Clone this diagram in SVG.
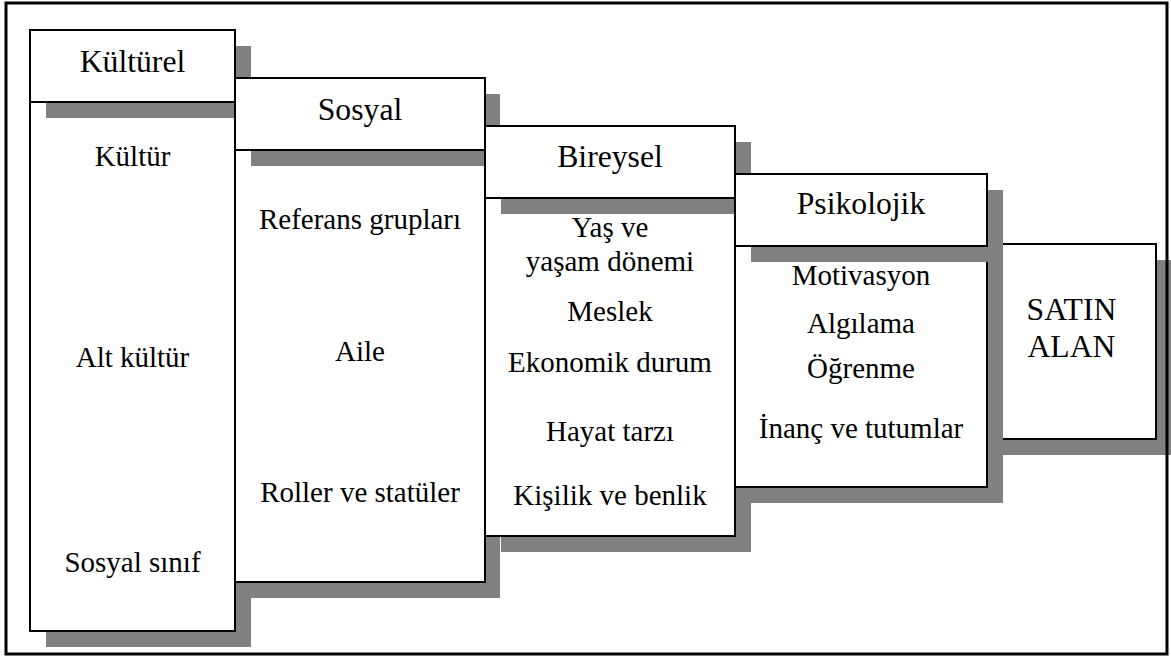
<svg xmlns="http://www.w3.org/2000/svg" width="1171" height="659" viewBox="0 0 1171 659">
  <style>
    .box { fill: #ffffff; stroke: #000000; stroke-width: 2; }
    .shadow { fill: #808080; stroke: none; }
    .head { font-family: "Liberation Serif", "Times New Roman", serif; font-size: 31.7px; fill: #000000; text-anchor: middle; }
    .item { font-family: "Liberation Serif", "Times New Roman", serif; font-size: 29px; fill: #000000; text-anchor: middle; }
    .frame { fill: none; stroke: #000000; stroke-width: 3; }
  </style>
  <rect width="1171" height="659" fill="#ffffff"/>

  <!-- Cultural factors -->
  <g id="kulturel">
    <rect class="shadow" x="46" y="118" width="205" height="529"/>
    <rect class="box" x="30" y="102" width="205" height="529"/>
    <rect class="shadow" x="46" y="46" width="205" height="72"/>
    <rect class="box" x="30" y="30" width="205" height="72"/>
    <text class="head" x="132.5" y="72">Kültürel</text>
    <text class="item" x="132.5" y="166">Kültür</text>
    <text class="item" x="132.5" y="367">Alt kültür</text>
    <text class="item" x="132.5" y="572">Sosyal sınıf</text>
  </g>

  <!-- Social factors -->
  <g id="sosyal">
    <rect class="shadow" x="251" y="166" width="249" height="432"/>
    <rect class="box" x="235" y="150" width="250" height="432"/>
    <rect class="shadow" x="251" y="94" width="249" height="72"/>
    <rect class="box" x="235" y="78" width="250" height="72"/>
    <text class="head" x="360" y="120">Sosyal</text>
    <text class="item" x="360" y="229">Referans grupları</text>
    <text class="item" x="360" y="361">Aile</text>
    <text class="item" x="360" y="502">Roller ve statüler</text>
  </g>

  <!-- Personal factors -->
  <g id="bireysel">
    <rect class="shadow" x="501" y="214" width="250" height="338"/>
    <rect class="box" x="485" y="198" width="250" height="338"/>
    <rect class="shadow" x="501" y="142" width="250" height="72"/>
    <rect class="box" x="485" y="126" width="250" height="72"/>
    <text class="head" x="610" y="167">Bireysel</text>
    <text class="item" x="610" y="237">Yaş ve</text>
    <text class="item" x="610" y="271">yaşam dönemi</text>
    <text class="item" x="610" y="321">Meslek</text>
    <text class="item" x="610" y="372">Ekonomik durum</text>
    <text class="item" x="610" y="441">Hayat tarzı</text>
    <text class="item" x="610" y="505">Kişilik ve benlik</text>
  </g>

  <!-- Buyer -->
  <g id="satin-alan">
    <rect class="shadow" x="1003" y="260" width="169" height="195"/>
    <rect class="box" x="987" y="244" width="169" height="195"/>
    <text class="head" x="1071.5" y="320">SATIN</text>
    <text class="head" x="1071.5" y="357">ALAN</text>
  </g>

  <!-- Psychological factors -->
  <g id="psikolojik">
    <rect class="shadow" x="751" y="262" width="252" height="241"/>
    <rect class="box" x="735" y="246" width="252" height="241"/>
    <rect class="shadow" x="751" y="190" width="252" height="72"/>
    <rect class="box" x="735" y="174" width="252" height="72"/>
    <text class="head" x="861" y="214">Psikolojik</text>
    <text class="item" x="861" y="285">Motivasyon</text>
    <text class="item" x="861" y="333">Algılama</text>
    <text class="item" x="861" y="378">Öğrenme</text>
    <text class="item" x="861" y="438">İnanç ve tutumlar</text>
  </g>

  <!-- Connectors: none, the columns abut each other -->
  <g id="connectors"/>

  <!-- Outer frame -->
  <rect class="frame" x="6" y="3" width="1161" height="651"/>
</svg>
